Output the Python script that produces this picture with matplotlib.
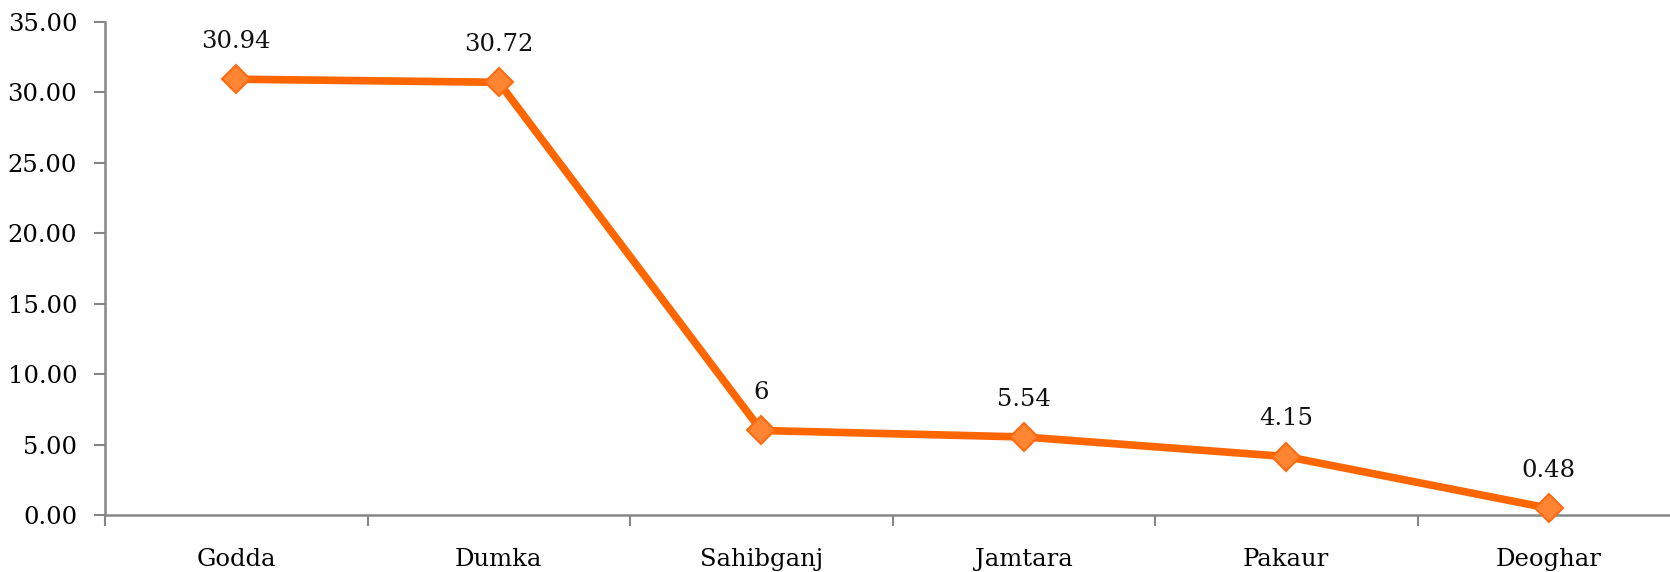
import numpy as np
import matplotlib.pyplot as plt
from matplotlib.ticker import FixedLocator, FormatStrFormatter

districts = ['Godda', 'Dumka', 'Sahibganj', 'Jamtara', 'Pakaur', 'Deoghar']
values = [30.94, 30.72, 6, 5.54, 4.15, 0.48]
value_labels = ['30.94', '30.72', '6', '5.54', '4.15', '0.48']

plt.rcParams['font.family'] = ['DejaVu Serif']

fig = plt.figure(figsize=(16.7, 5.72), dpi=100)
W, H = 1670, 572
left, right, top, bottom = 105, 1680, 22, 515
ax = fig.add_axes([left / W, (H - bottom) / H, (right - left) / W, (bottom - top) / H])

x = np.arange(len(districts))
ax.plot(x, values, color='#FF6600', lw=5.5, marker='D', markersize=14,
        markerfacecolor='#FF8533', markeredgecolor='#FF6A10', markeredgewidth=1.5,
        zorder=3, clip_on=False)

for xi, v, lab in zip(x, values, value_labels):
    ax.annotate(lab, (xi, v), xytext=(0, 19), textcoords='offset points',
                ha='center', va='bottom', fontsize=17.5, color='#111111')

ax.set_xlim(-0.5, len(districts) - 0.5)
ax.set_ylim(0, 35)
ax.set_yticks(np.arange(0, 36, 5))
ax.yaxis.set_major_formatter(FormatStrFormatter('%.2f'))

# boundaries as major ticks, names as minor labels
ax.xaxis.set_major_locator(FixedLocator(np.arange(-0.5, len(districts), 1.0)))
ax.xaxis.set_minor_locator(FixedLocator(x))
ax.set_xticklabels([], minor=False)
ax.set_xticklabels(districts, minor=True)

ax.tick_params(axis='x', which='major', length=8, width=1.5, color='#868686', direction='out')
ax.tick_params(axis='x', which='minor', length=0, pad=24, labelsize=17.5)
ax.tick_params(axis='y', length=8, width=1.5, color='#868686', direction='out',
               pad=12, labelsize=17.5)

for side in ['top', 'right']:
    ax.spines[side].set_visible(False)
for side in ['left', 'bottom']:
    ax.spines[side].set_color('#868686')
    ax.spines[side].set_linewidth(1.8)

fig.savefig('out.png', dpi=100)
